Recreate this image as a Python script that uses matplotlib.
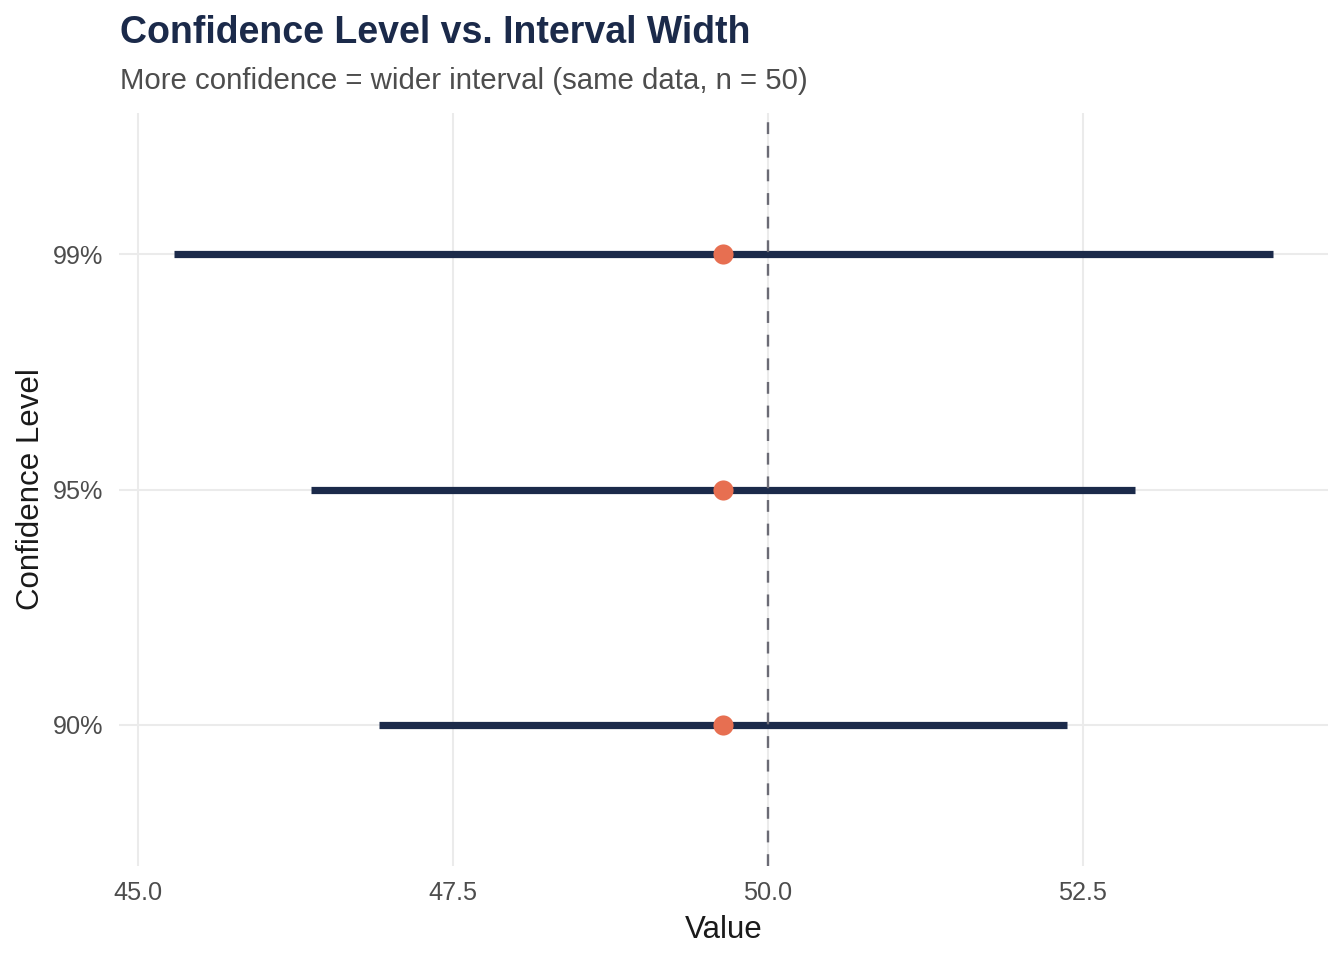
import matplotlib
matplotlib.use("Agg")
import matplotlib.pyplot as plt

levels = ["90%", "95%", "99%"]
means = [49.644, 49.644, 49.644]
lower = [46.915, 46.374, 45.286]
upper = [52.373, 52.913, 54.010]
true_value = 50.0
x_ticks = [45.0, 47.5, 50.0, 52.5]

plt.rcParams['font.family'] = ['Liberation Sans', 'DejaVu Sans']

fig = plt.figure(figsize=(13.44, 9.6), dpi=100)
ax = fig.add_axes([119/1344, (960-866)/960, (1328-119)/1344, (866-113)/960])

ypos = list(range(1, len(levels)+1))
ax.grid(True, color='#ebebeb', linewidth=1.5, zorder=0)
ax.set_axisbelow(True)
for y, lo, hi in zip(ypos, lower, upper):
    ax.plot([lo, hi], [y, y], color='#1b2a4a', linewidth=5.2, solid_capstyle='butt', zorder=3)
ax.axvline(true_value, color='#6b6b75', linewidth=1.7, linestyle=(0, (5, 5)), zorder=4)
ax.plot(means, ypos, 'o', color='#e76f51', markersize=14.5, markeredgewidth=0, zorder=5)

rng = max(upper) - min(lower)
ax.set_xlim(min(lower) - 0.05*rng, max(upper) + 0.05*rng)
ax.set_ylim(0.4, len(levels) + 0.6)
ax.set_xticks(x_ticks)
ax.set_xticklabels([f"{t:.1f}" for t in x_ticks])
ax.set_yticks(ypos)
ax.set_yticklabels(levels)
ax.tick_params(axis='x', length=0, labelsize=18.2, labelcolor='#4d4d4d', pad=11)
ax.tick_params(axis='y', length=0, labelsize=18.2, labelcolor='#4d4d4d', pad=11)
for s in ax.spines.values():
    s.set_visible(False)

ax.set_xlabel("Value", fontsize=22.5, color='#1a1a1a', labelpad=7)
ax.set_ylabel("Confidence Level", fontsize=22.5, color='#1a1a1a', labelpad=5)

fig.text(120/1344, 1 - 33/960, "Confidence Level vs. Interval Width", fontsize=27,
         fontweight='bold', color='#1b2a4a', va='center', ha='left')
fig.text(120/1344, 1 - 81/960, "More confidence = wider interval (same data, n = 50)", fontsize=21.2,
         color='#4d4d4d', va='center', ha='left')

fig.savefig("out.png", dpi=100)
